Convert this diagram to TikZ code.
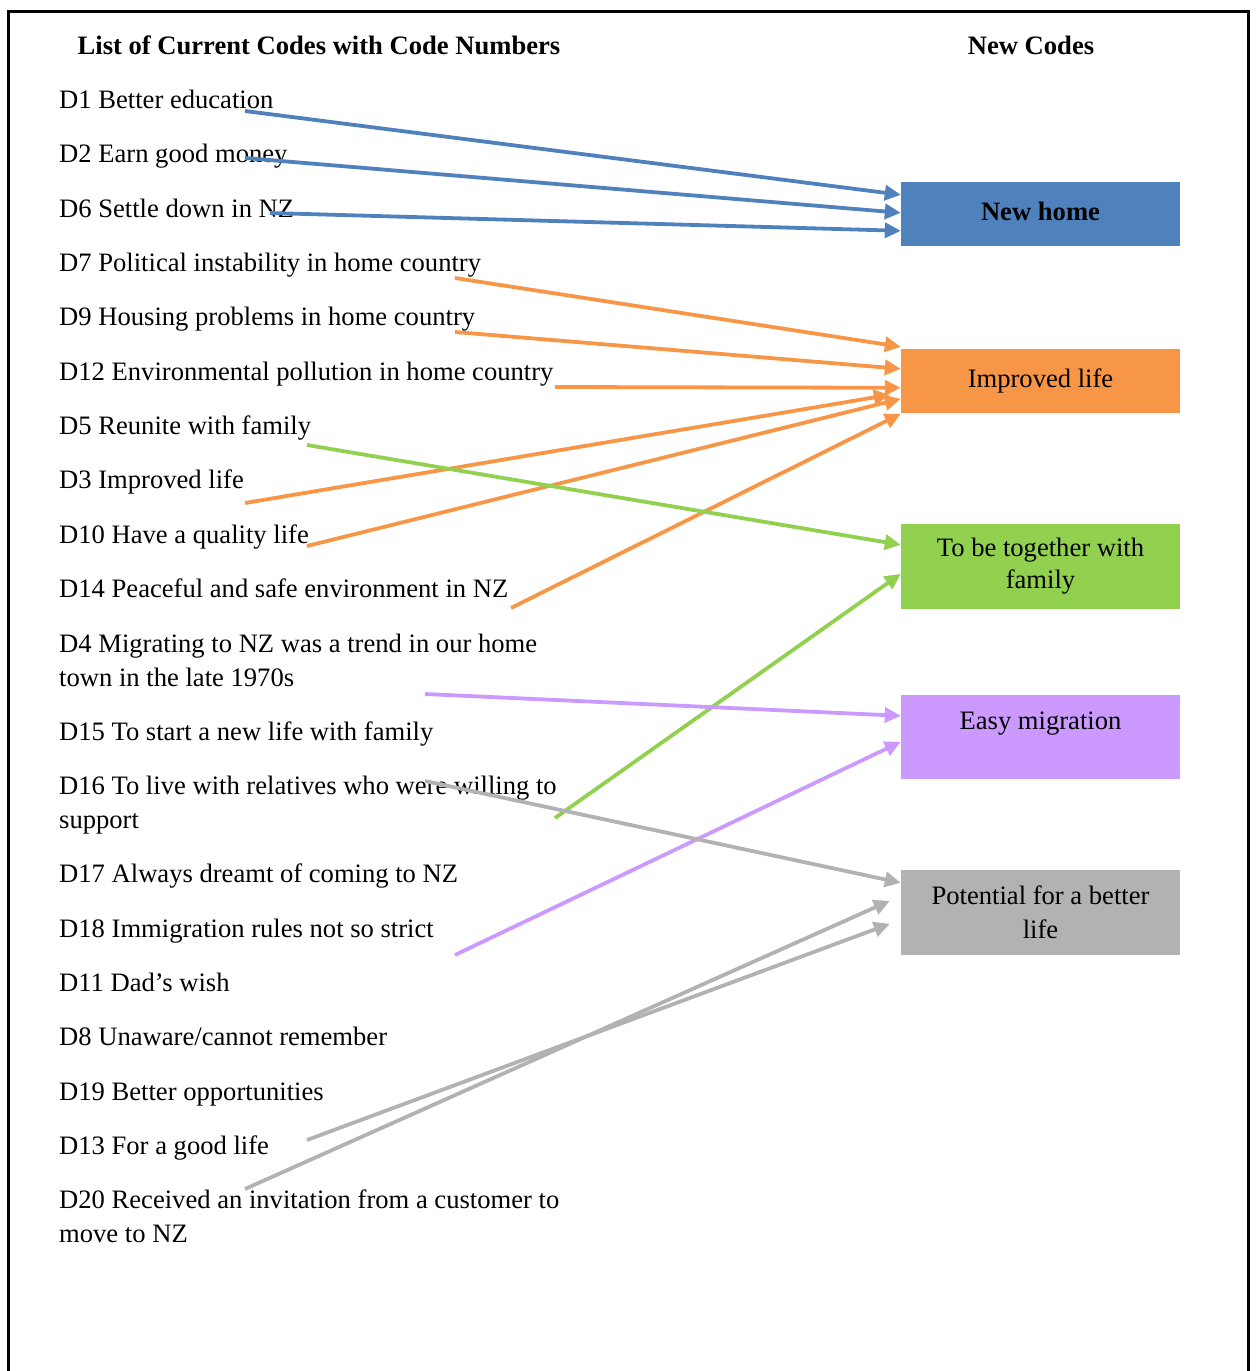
\documentclass[tikz,border=0pt]{standalone}
\usepackage{fontspec}
\setmainfont{Liberation Serif}
\usepackage{xcolor}
\usetikzlibrary{arrows.meta,positioning}
\definecolor{homeblue}{HTML}{4F81BD}
\definecolor{lifeorange}{HTML}{F79646}
\definecolor{familygreen}{HTML}{92D050}
\definecolor{migpurple}{HTML}{CC99FF}
\definecolor{potgray}{HTML}{B2B2B2}
\tikzset{
  code/.style={anchor=base west, inner sep=0pt, align=left,
               font=\fontsize{26.6}{34}\selectfont},
  head/.style={anchor=base, inner sep=0pt,
               font=\fontsize{26.6}{34}\selectfont\bfseries},
  newcode/.style={minimum width=279pt, minimum height=64pt, inner sep=0pt,
               align=center, font=\fontsize{26.6}{34}\selectfont},
  link/.style={-{Triangle[length=16pt,width=15pt]}, line width=3.8pt},
}

\begin{document}
\begin{tikzpicture}[x=1pt, y=-1pt]
  \useasboundingbox (0,0) rectangle (1257,1371);
  \draw[line width=3pt] (8,1371) -- (8,11) -- (1248,11) -- (1248,1371);

  \node[head] (curhead) at (319,54) {List of Current Codes with Code Numbers};
  \node[head] (newhead) at (1031,54) {New Codes};

  % current codes (two-line ones sit on their last line)
  \node[code] (d1)  at (59,108)  {D1 Better education};
  \node[code] (d2)  at (59,162)  {D2 Earn good money};
  \node[code] (d6)  at (59,217)  {D6 Settle down in NZ};
  \node[code] (d7)  at (59,271)  {D7 Political instability in home country};
  \node[code] (d9)  at (59,325)  {D9 Housing problems in home country};
  \node[code] (d12) at (59,380)  {D12 Environmental pollution in home country};
  \node[code] (d5)  at (59,434)  {D5 Reunite with family};
  \node[code] (d3)  at (59,488)  {D3 Improved life};
  \node[code] (d10) at (59,543)  {D10 Have a quality life};
  \node[code] (d14) at (59,597)  {D14 Peaceful and safe environment in NZ};
  \node[code] (d4)  at (59,686)  {D4 Migrating to NZ was a trend in our home\\town in the late 1970s};
  \node[code] (d15) at (59,740)  {D15 To start a new life with family};
  \node[code] (d16) at (59,828)  {D16 To live with relatives who were willing to\\support};
  \node[code] (d17) at (59,882)  {D17 Always dreamt of coming to NZ};
  \node[code] (d18) at (59,937)  {D18 Immigration rules not so strict};
  \node[code] (d11) at (59,991)  {D11 Dad’s wish};
  \node[code] (d8)  at (59,1045) {D8 Unaware/cannot remember};
  \node[code] (d19) at (59,1100) {D19 Better opportunities};
  \node[code] (d13) at (59,1154) {D13 For a good life};
  \node[code] (d20) at (59,1242) {D20 Received an invitation from a customer to\\move to NZ};

  % new codes
  \node[newcode, fill=homeblue, font=\fontsize{26.6}{34}\selectfont\bfseries]
    (home) at (1040.5,214) {\raisebox{5pt}{New home}};
  \node[newcode, fill=lifeorange] (improved) at (1040.5,381) {\raisebox{3pt}{Improved life}};
  \node[newcode, fill=familygreen, minimum height=85pt]
    (together) at (1040.5,566.5) {\raisebox{-4pt}{To be together with}\\\raisebox{-2pt}{family}};
  \node[newcode, fill=migpurple, minimum height=84pt]
    (easy) at (1040.5,737) {Easy migration\\[-12pt]\strut};
  \node[newcode, fill=potgray, minimum height=85pt]
    (potential) at (1040.5,912.5) {Potential for a better\\life};

  % tails
  \coordinate (d1-tail)  at (245,111);
  \coordinate (d2-tail)  at (245,158);
  \coordinate (d6-tail)  at (270,213);
  \coordinate (d7-tail)  at (455,278);
  \coordinate (d9-tail)  at (455,332);
  \coordinate (d12-tail) at (555,387);
  \coordinate (d5-tail)  at (307,445);
  \coordinate (d3-tail)  at (245,503);
  \coordinate (d10-tail) at (307,546);
  \coordinate (d14-tail) at (511,608);
  \coordinate (d4-tail)  at (425,694);
  \coordinate (d16-tail) at (425,781);
  \coordinate (d16-tail2) at (555,818);
  \coordinate (d18-tail) at (455,955);
  \coordinate (d13-tail) at (307,1140);
  \coordinate (d20-tail) at (245,1189);

  \draw[link, homeblue] (d1-tail) -- ([yshift=-13pt]home.north west);
  \draw[link, homeblue] (d2-tail) -- ([yshift=-31pt]home.north west);
  \draw[link, homeblue] (d6-tail) -- ([yshift=-49pt]home.north west);

  \draw[link, lifeorange] (d7-tail) -- ([yshift=2pt]improved.north west);
  \draw[link, lifeorange] (d9-tail) -- ([yshift=-20pt]improved.north west);
  \draw[link, lifeorange] (d12-tail) -- ([yshift=-39pt]improved.north west);
  \draw[link, lifeorange] (d3-tail) -- ([xshift=-11pt,yshift=-46pt]improved.north west);
  \draw[link, lifeorange] (d10-tail) -- ([yshift=-50pt]improved.north west);
  \draw[link, lifeorange] (d14-tail) -- ([yshift=-65pt]improved.north west);

  \draw[link, familygreen] (d5-tail) -- ([yshift=-21pt]together.north west);
  \draw[link, familygreen] (d16-tail2) -- ([yshift=-50pt]together.north west);

  \draw[link, migpurple] (d4-tail) -- ([yshift=-21pt]easy.north west);
  \draw[link, migpurple] (d18-tail) -- ([yshift=-47pt]easy.north west);

  \draw[link, potgray] (d16-tail) -- ([yshift=-13pt]potential.north west);
  \draw[link, potgray] (d20-tail) -- ([xshift=-11pt,yshift=-31pt]potential.north west);
  \draw[link, potgray] (d13-tail) -- ([xshift=-11pt,yshift=-54pt]potential.north west);
\end{tikzpicture}
\end{document}
